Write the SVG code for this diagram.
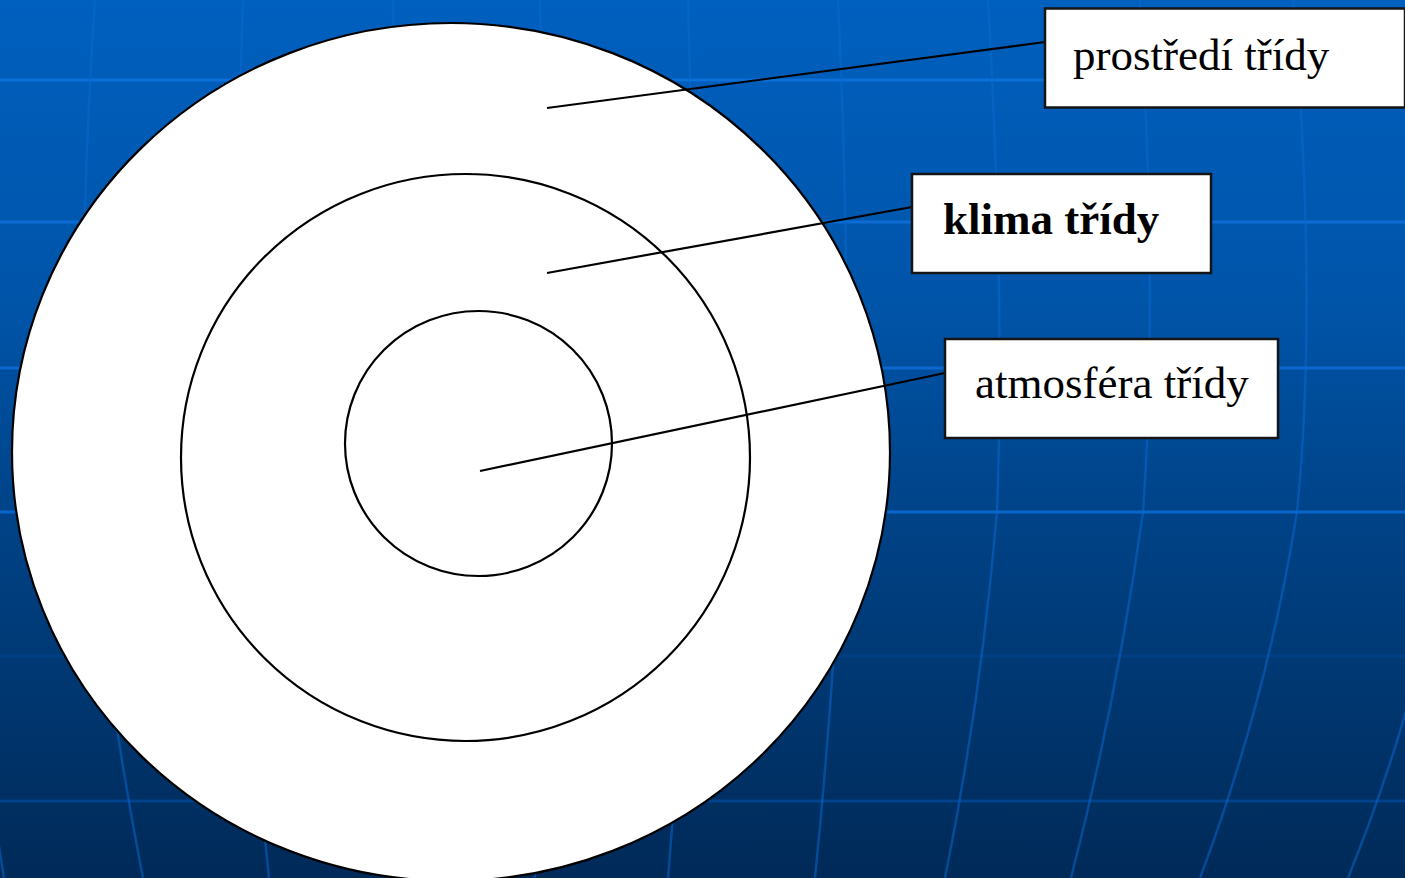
<svg xmlns="http://www.w3.org/2000/svg" width="1405" height="878" viewBox="0 0 1405 878">
  <defs>
    <linearGradient id="bg" x1="0" y1="0" x2="0" y2="1">
      <stop offset="0" stop-color="#0060BF"/>
      <stop offset="0.35" stop-color="#0054A8"/>
      <stop offset="0.6" stop-color="#004286"/>
      <stop offset="1" stop-color="#002A58"/>
    </linearGradient>
  </defs>
  <style>
    .vgrid { fill: none; stroke: #0A6AD0; stroke-opacity: 0.5; stroke-width: 2.5; }
    .hgrid { fill: none; stroke-width: 3; }
    .ring { fill: #FFFFFF; stroke: #000000; stroke-width: 2.2; }
    .ringline { fill: none; stroke: #000000; stroke-width: 2.2; }
    .conn { fill: none; stroke: #000000; stroke-width: 2.2; }
    .box { fill: #FFFFFF; stroke: #151515; stroke-width: 2.5; }
    .lbl { font-family: "Liberation Serif", "Times New Roman", serif; font-size: 45px; fill: #000000; }
    .bold { font-weight: bold; }
  </style>

  <g id="background">
    <rect x="0" y="0" width="1405" height="878" fill="url(#bg)"/>
    <g id="grid-horizontal">
      <line class="hgrid" x1="0" y1="80" x2="1405" y2="80" stroke="#0D6FD8"/>
      <line class="hgrid" x1="0" y1="222" x2="1405" y2="222" stroke="#0C6CD4"/>
      <line class="hgrid" x1="0" y1="368" x2="1405" y2="368" stroke="#0A69CF"/>
      <line class="hgrid" x1="0" y1="512" x2="1405" y2="512" stroke="#0866CA"/>
      <line class="hgrid" x1="0" y1="656" x2="1405" y2="656" stroke="#003F84"/>
      <line class="hgrid" x1="0" y1="801" x2="1405" y2="801" stroke="#00438B"/>
    </g>
    <g id="grid-vertical">
      <path class="vgrid" d="M -40 600 Q -15 760 4 878"/>
      <path class="vgrid" d="M 95 0 Q 75 300 90 512 Q 108 700 143 878"/>
      <path class="vgrid" d="M 243 0 Q 233 300 240 512 Q 250 700 269 878"/>
      <path class="vgrid" d="M 393 0 Q 393 300 393 512 Q 393 700 394 878"/>
      <path class="vgrid" d="M 540 0 Q 545 300 541 512 Q 540 700 535 878"/>
      <path class="vgrid" d="M 688 0 Q 696 300 690 512 Q 683 700 668 878"/>
      <path class="vgrid" d="M 838 0 Q 852 300 842 512 Q 833 700 815 878"/>
      <path class="vgrid" d="M 988 0 Q 1005 300 997 512 Q 981 700 945 878"/>
      <path class="vgrid" d="M 1140 0 Q 1158 300 1143 512 Q 1117 700 1071 878"/>
      <path class="vgrid" d="M 1293 0 Q 1318 300 1297 512 Q 1267 700 1200 878"/>
      <path class="vgrid" d="M 1448 0 Q 1475 300 1452 512 Q 1420 700 1348 878"/>
    </g>
  </g>

  <g id="rings">
    <ellipse id="ring-outer" class="ring" cx="451" cy="452" rx="439" ry="429"/>
    <ellipse id="ring-middle" class="ringline" cx="465.5" cy="457.5" rx="284.5" ry="283.5"/>
    <ellipse id="ring-inner" class="ringline" cx="478.5" cy="443.5" rx="133.5" ry="132.5"/>
  </g>

  <g id="connectors">
    <line class="conn" x1="547" y1="108" x2="1045" y2="42"/>
    <line class="conn" x1="547" y1="273" x2="912" y2="207"/>
    <line class="conn" x1="480" y1="471" x2="945" y2="373"/>
  </g>

  <g id="node-prostredi">
    <rect class="box" x="1045" y="8.5" width="360" height="99"/>
    <text class="lbl" x="1073" y="70">prostředí třídy</text>
  </g>

  <g id="node-klima">
    <rect class="box" x="912" y="174" width="299" height="99"/>
    <text class="lbl bold" x="943" y="234">klima třídy</text>
  </g>

  <g id="node-atmosfera">
    <rect class="box" x="945" y="339" width="333" height="99"/>
    <text class="lbl" x="975" y="398">atmosféra třídy</text>
  </g>
</svg>
